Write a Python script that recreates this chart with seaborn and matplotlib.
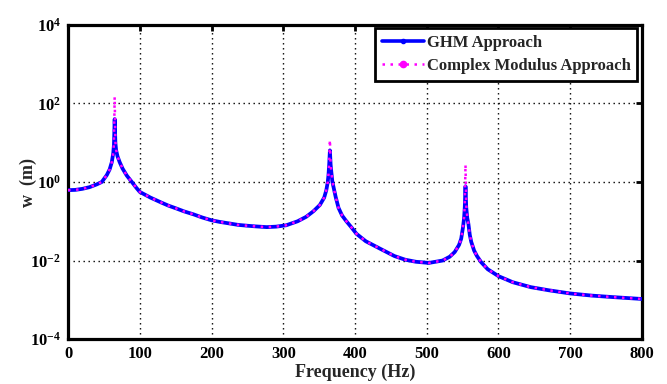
import matplotlib
matplotlib.use("Agg")
import numpy as np
import pandas as pd
import seaborn as sns
import matplotlib.pyplot as plt
from matplotlib.lines import Line2D
from matplotlib.ticker import FixedLocator, NullLocator, FixedFormatter

# ---- data ----
freq = [0, 10, 20, 30, 40, 47, 54, 58, 61, 63, 64, 65, 66, 67, 69, 72, 76, 82, 89,
        95, 100, 115, 130, 140, 150, 162, 175, 187, 200, 212, 225, 237, 250, 262,
        277, 290, 304, 320, 332, 342, 351, 357, 360, 362, 363, 364, 365, 366, 367,
        368.5, 370, 373, 377, 382, 388, 395, 402, 415, 435, 455, 470, 485, 503,
        522, 532, 539, 545, 548, 550.5, 552, 553, 554, 555, 556.5, 558, 560, 562,
        566, 570, 576, 585, 600, 620, 645, 670, 700, 730, 760, 800]

ghm = [0.62, 0.63, 0.67, 0.74, 0.87, 1.0, 1.5, 2.1, 3.2, 5.4, 9.0, 40, 10, 6.5,
       4.5, 3.2, 2.2, 1.45, 1.0, 0.72, 0.56, 0.40, 0.30, 0.25, 0.215, 0.178, 0.15,
       0.125, 0.106, 0.096, 0.088, 0.081, 0.077, 0.074, 0.071, 0.073, 0.079, 0.1,
       0.13, 0.18, 0.26, 0.4, 0.62, 1.0, 1.5, 2.8, 6.4, 2.8, 1.8, 1.0, 0.75, 0.42,
       0.22, 0.14, 0.1, 0.07, 0.048, 0.031, 0.020, 0.013, 0.0105, 0.0093, 0.0087,
       0.0100, 0.0125, 0.0165, 0.025, 0.036, 0.07, 0.12, 0.23, 0.78, 0.23, 0.12,
       0.087, 0.045, 0.03, 0.018, 0.013, 0.009, 0.006, 0.0040, 0.0028, 0.0021,
       0.00175, 0.00145, 0.00128, 0.00117, 0.00105]

cm = [0.62, 0.63, 0.67, 0.74, 0.87, 1.0, 1.5, 2.1, 3.2, 5.5, 9.5, 148, 10.5, 6.6,
      4.5, 3.2, 2.2, 1.45, 1.0, 0.72, 0.56, 0.40, 0.30, 0.25, 0.215, 0.178, 0.15,
      0.125, 0.106, 0.096, 0.088, 0.081, 0.077, 0.074, 0.071, 0.073, 0.079, 0.1,
      0.13, 0.18, 0.26, 0.4, 0.62, 1.0, 1.55, 3.0, 12.0, 3.0, 1.85, 1.0, 0.75, 0.42,
      0.22, 0.14, 0.1, 0.07, 0.048, 0.031, 0.020, 0.013, 0.0105, 0.0093, 0.0087,
      0.0100, 0.0125, 0.0165, 0.025, 0.036, 0.072, 0.125, 0.26, 2.8, 0.26, 0.125,
      0.087, 0.045, 0.03, 0.018, 0.013, 0.009, 0.006, 0.0040, 0.0028, 0.0021,
      0.00175, 0.00145, 0.00128, 0.00117, 0.00105]

x_ticks = [0, 100, 200, 300, 400, 500, 600, 700, 800]
y_ticks = [1e-4, 1e-2, 1e0, 1e2, 1e4]
y_tick_labels = [r"$10^{-4}$", r"$10^{-2}$", r"$10^{0}$", r"$10^{2}$", r"$10^{4}$"]
series_names = ["GHM Approach", "Complex Modulus Approach"]

# ---- style ----
sns.set_theme(style="white")
plt.rcParams["font.family"] = ["Liberation Serif", "DejaVu Serif"]
plt.rcParams["font.weight"] = "bold"
plt.rcParams["mathtext.fontset"] = "custom"
plt.rcParams["mathtext.rm"] = "Liberation Serif:bold"
plt.rcParams["mathtext.bf"] = "Liberation Serif:bold"
plt.rcParams["mathtext.it"] = "Liberation Serif:bold:italic"
plt.rcParams["mathtext.default"] = "rm"

fig = plt.figure(figsize=(6.67, 3.84), dpi=100)
ax = fig.add_axes([0.102, 0.117, 0.8605, 0.818])

df = pd.DataFrame({"freq": freq, "ghm": ghm, "cm": cm})
blue = "#0000FF"
magenta = "#FF00FF"

sns.lineplot(data=df, x="freq", y="ghm", ax=ax, color=blue, linewidth=2.7,
             sort=False, legend=False, zorder=3)
sns.lineplot(data=df, x="freq", y="cm", ax=ax, color=magenta, linewidth=1.8,
             linestyle=(0, (1, 2.2)), sort=False, legend=False, zorder=4)

ax.set_yscale("log")
ax.set_xlim(0, 800)
ax.set_ylim(1e-4, 1e4)
ax.xaxis.set_major_locator(FixedLocator(x_ticks))
ax.yaxis.set_major_locator(FixedLocator(y_ticks))
ax.yaxis.set_major_formatter(FixedFormatter(y_tick_labels))
ax.yaxis.set_minor_locator(NullLocator())
ax.xaxis.set_minor_locator(NullLocator())

ax.grid(True, which="major", color="black", linestyle=(0, (1, 2.6)), linewidth=1.0)
ax.set_axisbelow(True)

for s in ax.spines.values():
    s.set_visible(True)
    s.set_color("black")
    s.set_linewidth(2.3)

ax.tick_params(axis="both", which="major", direction="in", length=4, width=2,
               top=True, right=True, labelsize=12, colors="black", pad=5)
for lab in ax.get_xticklabels() + ax.get_yticklabels():
    lab.set_fontweight("bold")

ax.set_xlabel("Frequency (Hz)", fontsize=13, fontweight="bold", labelpad=1)
ax.set_ylabel("w  (m)", fontsize=13, fontweight="bold", labelpad=-5)

handles = [
    Line2D([], [], color=blue, linewidth=2.6, marker=".", markersize=6),
    Line2D([], [], color=magenta, linewidth=1.8, linestyle=(0, (1, 2.2)),
           marker=".", markersize=9),
]
leg = ax.legend(handles, series_names, loc="upper right",
                bbox_to_anchor=(0.992, 0.99), borderaxespad=0, fancybox=False,
                framealpha=1, edgecolor="black", numpoints=1,
                handlelength=2.5, handletextpad=0.2, borderpad=0.4,
                labelspacing=0.45, prop={"weight": "bold", "size": 12})
leg.get_frame().set_linewidth(2.0)

fig.savefig("out.png", dpi=100)
